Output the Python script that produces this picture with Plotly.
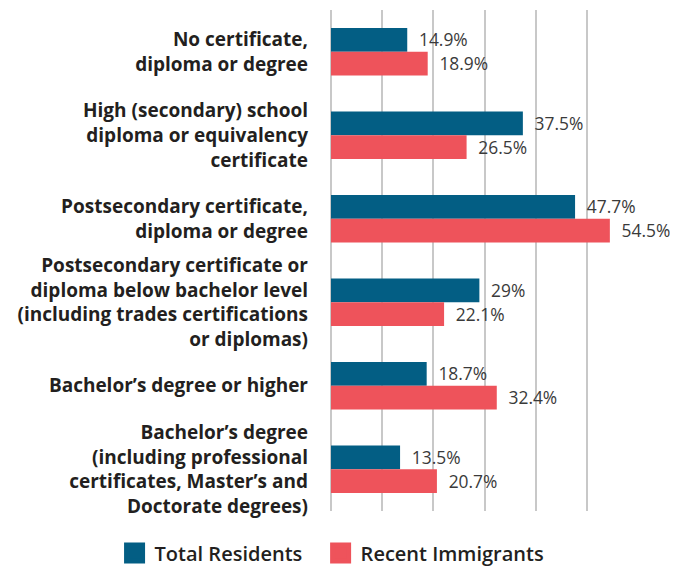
import plotly.graph_objects as go

categories = [
    "No certificate,<br>diploma or degree",
    "High (secondary) school<br>diploma or equivalency<br>certificate",
    "Postsecondary certificate,<br>diploma or degree",
    "Postsecondary certificate or<br>diploma below bachelor level<br>(including trades certifications<br>or diplomas)",
    "Bachelor\u2019s degree or higher",
    "Bachelor\u2019s degree<br>(including professional<br>certificates, Master\u2019s and<br>Doctorate degrees)",
]
total_residents = [14.9, 37.5, 47.7, 29, 18.7, 13.5]
recent_immigrants = [18.9, 26.5, 54.5, 22.1, 32.4, 20.7]
series_names = ["Total Residents", "Recent Immigrants"]

BLUE = "#035e84"
RED = "#ee535b"
FONT = "Open Sans"

fig = go.Figure()
legend_pad = ["\u2002\u2009", ""]
for i, (name, vals, col) in enumerate([(series_names[0], total_residents, BLUE),
                                       (series_names[1], recent_immigrants, RED)]):
    fig.add_trace(go.Bar(
        y=categories, x=vals, orientation="h", name=name,
        marker=dict(color=col, line=dict(width=0)),
        text=[f"{v:g}%" for v in vals],
        texttemplate="\u2002%{text}",
        textposition="outside",
        textfont=dict(family=FONT, size=19, color="#3a3a3a"),
        cliponaxis=False,
        showlegend=False,
    ))
    fig.add_trace(go.Scatter(
        x=[None], y=[None], mode="markers", name=name + legend_pad[i],
        marker=dict(symbol="square", size=16, color=col,
                    line=dict(color=col, width=5)),
        showlegend=True,
    ))

# page body adds an 8px offset, so the figure is sized to fit inside the window
fig.update_layout(
    width=670, height=559,
    margin=dict(l=323, r=40, t=2, b=56, autoexpand=False),
    barmode="group",
    bargap=0.43,
    bargroupgap=0,
    plot_bgcolor="white",
    paper_bgcolor="white",
    font=dict(family=FONT, color="#231f20"),
    legend=dict(
        orientation="h",
        x=-0.705, xanchor="left",
        y=-0.045, yanchor="top",
        font=dict(family=FONT, size=20, color="#231f20", weight=600),
        itemsizing="trace",
        bgcolor="rgba(0,0,0,0)",
    ),
)
fig.update_xaxes(
    range=[0, 60], dtick=10, tick0=0,
    showgrid=True, gridcolor="#c8c8c8", gridwidth=1.5,
    showticklabels=False, zeroline=True, zerolinecolor="#c8c8c8", zerolinewidth=1.5,
    showline=False, automargin=False,
)
fig.update_yaxes(
    autorange="reversed", showgrid=False, showline=False,
    ticks="", ticklabelstandoff=22, automargin=False,
    tickfont=dict(family=FONT, size=19, color="#231f20", weight="bold"),
)

fig.write_html("out.html")
